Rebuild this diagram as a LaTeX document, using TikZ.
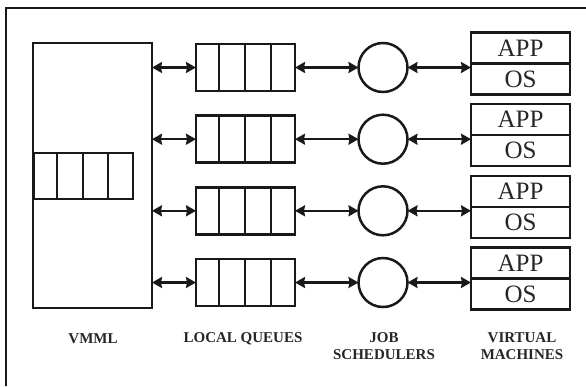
\documentclass[tikz,border=0pt]{standalone}
\usepackage{fontspec}
\setmainfont{Liberation Serif}
\usetikzlibrary{arrows.meta}
\begin{document}
\begin{tikzpicture}[x=1pt,y=-1pt,line width=2.5pt,
  box/.style={draw=black!90,line width=2.5pt,inner sep=0pt,outer sep=0pt},
  queue/.style={box,minimum width=99pt,minimum height=47pt},
  sched/.style={box,circle,minimum size=49pt},
  vmpart/.style={box,minimum width=99pt,minimum height=31pt,font=\fontsize{25}{25}\selectfont,text=black!85},
  dbl/.style={{Stealth[length=10pt,width=11pt,inset=1pt]}-{Stealth[length=10pt,width=11pt,inset=1pt]},line width=2.2pt,draw=black!90},
  lab/.style={font=\fontsize{15}{17}\selectfont\bfseries,align=center,text=black!85,inner sep=0pt}]
\useasboundingbox (0,0) rectangle (586,386);
% frame
\coordinate (fbl) at (6,386);
\coordinate (ftl) at (6,8);
\coordinate (ftr) at (586,8);
\draw[line width=2.5pt,black!90] (fbl) -- (ftl) -- (ftr);
% VMML
\node[box,minimum width=119pt,minimum height=265pt] (vmml) at (92.5,175.5) {};
\node[box,minimum width=99pt,minimum height=46pt] (iq) at (83.5,176) {};
\foreach \d in {23,49,74}{
  \draw[black!90] ([xshift=\d pt]iq.north west) -- ([xshift=\d pt]iq.south west);
}
% rows
\foreach \i/\y in {1/67.5,2/139.2,3/210.8,4/282.5}{
  \node[queue] (q\i) at (245.5,\y) {};
  \foreach \d in {23,49,75}{
    \draw[black!90] ([xshift=\d pt]q\i.north west) -- ([xshift=\d pt]q\i.south west);
  }
  \node[sched] (c\i) at (383,\y) {};
  \node[vmpart,anchor=south] (a\i) at (520.5,\y-4) {APP};
  \node[vmpart,anchor=north] (o\i) at (520.5,\y-4) {OS};
  \draw[dbl] (vmml.east |- q\i.west) -- (q\i.west);
  \draw[dbl] (q\i.east) -- (c\i.west);
  \draw[dbl] (c\i.east) -- (c\i.east -| a\i.west);
}
% labels
\node[lab] (l1) at (93,339) {VMML};
\node[lab] (l2) at (243,339) {LOCAL QUEUES};
\node[lab] (l3) at (384,346.5) {JOB\\SCHEDULERS};
\node[lab] (l4) at (522,346.5) {VIRTUAL\\MACHINES};
\end{tikzpicture}
\end{document}
